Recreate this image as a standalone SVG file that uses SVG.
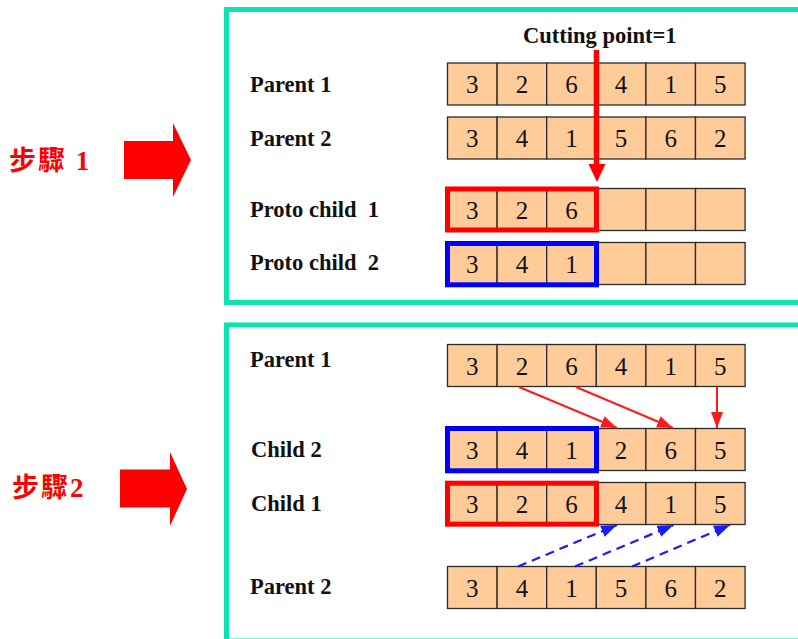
<svg xmlns="http://www.w3.org/2000/svg" width="798" height="639" viewBox="0 0 798 639">
  <style>
    .frame { fill: none; stroke: #0BE3B0; stroke-width: 5; }
    .cell { fill: #FFCC99; stroke: #2b2b2b; stroke-width: 1.3; }
    .num { font-family: "Liberation Serif", "Times New Roman", serif; font-size: 25px; fill: #111; text-anchor: middle; }
    .lbl { font-family: "Liberation Serif", "Times New Roman", serif; font-size: 22.5px; font-weight: bold; fill: #111; }
    .step { font-family: "Liberation Serif", "Noto Sans CJK TC", serif; font-size: 27px; font-weight: bold; fill: #FF0000; letter-spacing: 2px; }
    .hl-red { fill: none; stroke: #FF0000; stroke-width: 5; }
    .hl-blue { fill: none; stroke: #0000FF; stroke-width: 5; }
    .copy { fill: none; stroke: #FF1A1A; stroke-width: 2; marker-end: url(#headRed); }
    .fill { fill: none; stroke: #1A1AFF; stroke-width: 2.2; stroke-dasharray: 9 6; marker-end: url(#headBlue); }
  </style>
  <defs>
    <marker id="headRed" markerUnits="userSpaceOnUse" markerWidth="18" markerHeight="14" refX="16" refY="6" orient="auto">
      <path d="M0,0 L16,6 L0,12 Z" fill="#FF1A1A"/>
    </marker>
    <marker id="headBlue" markerUnits="userSpaceOnUse" markerWidth="18" markerHeight="14" refX="16" refY="6" orient="auto">
      <path d="M0,0 L16,6 L0,12 Z" fill="#1A1AFF"/>
    </marker>
  </defs>

  <rect width="798" height="639" fill="#FFFFFF"/>

  <!-- step 1 -->
  <g id="step1-label">
    <text class="step" x="9" y="170" xml:space="preserve">步驟 1</text>
    <polygon points="124,141 173,141 173,123 191,160 173,197 173,179 124,179" fill="#FF0000"/>
  </g>

  <g id="step1-frame">
    <rect class="frame" x="226.5" y="9.5" width="600" height="293"/>
    <text class="lbl" x="523" y="43">Cutting point=1</text>
  </g>

  <g id="s1-parent1">
    <text class="lbl" x="250" y="92">Parent 1</text>
    <rect class="cell" x="447.5" y="63" width="49.6" height="42"/>
    <rect class="cell" x="497.1" y="63" width="49.6" height="42"/>
    <rect class="cell" x="546.7" y="63" width="49.6" height="42"/>
    <rect class="cell" x="596.3" y="63" width="49.6" height="42"/>
    <rect class="cell" x="645.9" y="63" width="49.6" height="42"/>
    <rect class="cell" x="695.5" y="63" width="49.6" height="42"/>
    <text class="num" x="472.3" y="93">3</text>
    <text class="num" x="521.9" y="93">2</text>
    <text class="num" x="571.5" y="93">6</text>
    <text class="num" x="621.1" y="93">4</text>
    <text class="num" x="670.7" y="93">1</text>
    <text class="num" x="720.3" y="93">5</text>
  </g>

  <g id="s1-parent2">
    <text class="lbl" x="250" y="146">Parent 2</text>
    <rect class="cell" x="447.5" y="117" width="49.6" height="42"/>
    <rect class="cell" x="497.1" y="117" width="49.6" height="42"/>
    <rect class="cell" x="546.7" y="117" width="49.6" height="42"/>
    <rect class="cell" x="596.3" y="117" width="49.6" height="42"/>
    <rect class="cell" x="645.9" y="117" width="49.6" height="42"/>
    <rect class="cell" x="695.5" y="117" width="49.6" height="42"/>
    <text class="num" x="472.3" y="147">3</text>
    <text class="num" x="521.9" y="147">4</text>
    <text class="num" x="571.5" y="147">1</text>
    <text class="num" x="621.1" y="147">5</text>
    <text class="num" x="670.7" y="147">6</text>
    <text class="num" x="720.3" y="147">2</text>
  </g>

  <g id="s1-proto1">
    <text class="lbl" x="250" y="217" xml:space="preserve">Proto child  1</text>
    <rect class="cell" x="447.5" y="188.5" width="49.6" height="42"/>
    <rect class="cell" x="497.1" y="188.5" width="49.6" height="42"/>
    <rect class="cell" x="546.7" y="188.5" width="49.6" height="42"/>
    <rect class="cell" x="596.3" y="188.5" width="49.6" height="42"/>
    <rect class="cell" x="645.9" y="188.5" width="49.6" height="42"/>
    <rect class="cell" x="695.5" y="188.5" width="49.6" height="42"/>
    <text class="num" x="472.3" y="218.5">3</text>
    <text class="num" x="521.9" y="218.5">2</text>
    <text class="num" x="571.5" y="218.5">6</text>
    <rect class="hl-red" x="447.5" y="189" width="149" height="41"/>
  </g>

  <g id="s1-proto2">
    <text class="lbl" x="250" y="270" xml:space="preserve">Proto child  2</text>
    <rect class="cell" x="447.5" y="242.5" width="49.6" height="42"/>
    <rect class="cell" x="497.1" y="242.5" width="49.6" height="42"/>
    <rect class="cell" x="546.7" y="242.5" width="49.6" height="42"/>
    <rect class="cell" x="596.3" y="242.5" width="49.6" height="42"/>
    <rect class="cell" x="645.9" y="242.5" width="49.6" height="42"/>
    <rect class="cell" x="695.5" y="242.5" width="49.6" height="42"/>
    <text class="num" x="472.3" y="272.5">3</text>
    <text class="num" x="521.9" y="272.5">4</text>
    <text class="num" x="571.5" y="272.5">1</text>
    <rect class="hl-blue" x="447.5" y="243.5" width="149" height="41.3"/>
  </g>

  <!-- step 2 -->
  <g id="step2-label">
    <text class="step" x="12" y="497">步驟2</text>
    <polygon points="120,469.5 170,469.5 170,452 187,489 170,526 170,507.5 120,507.5" fill="#FF0000"/>
  </g>

  <g id="step2-frame">
    <rect class="frame" x="226.5" y="325" width="600" height="316"/>
  </g>

  <g id="s2-parent1">
    <text class="lbl" x="250" y="367">Parent 1</text>
    <rect class="cell" x="447.5" y="344.5" width="49.6" height="42"/>
    <rect class="cell" x="497.1" y="344.5" width="49.6" height="42"/>
    <rect class="cell" x="546.7" y="344.5" width="49.6" height="42"/>
    <rect class="cell" x="596.3" y="344.5" width="49.6" height="42"/>
    <rect class="cell" x="645.9" y="344.5" width="49.6" height="42"/>
    <rect class="cell" x="695.5" y="344.5" width="49.6" height="42"/>
    <text class="num" x="472.3" y="374.5">3</text>
    <text class="num" x="521.9" y="374.5">2</text>
    <text class="num" x="571.5" y="374.5">6</text>
    <text class="num" x="621.1" y="374.5">4</text>
    <text class="num" x="670.7" y="374.5">1</text>
    <text class="num" x="720.3" y="374.5">5</text>
  </g>

  <g id="s2-child2">
    <text class="lbl" x="251" y="457">Child 2</text>
    <rect class="cell" x="447.5" y="428.5" width="49.6" height="42"/>
    <rect class="cell" x="497.1" y="428.5" width="49.6" height="42"/>
    <rect class="cell" x="546.7" y="428.5" width="49.6" height="42"/>
    <rect class="cell" x="596.3" y="428.5" width="49.6" height="42"/>
    <rect class="cell" x="645.9" y="428.5" width="49.6" height="42"/>
    <rect class="cell" x="695.5" y="428.5" width="49.6" height="42"/>
    <text class="num" x="472.3" y="458.5">3</text>
    <text class="num" x="521.9" y="458.5">4</text>
    <text class="num" x="571.5" y="458.5">1</text>
    <text class="num" x="621.1" y="458.5">2</text>
    <text class="num" x="670.7" y="458.5">6</text>
    <text class="num" x="720.3" y="458.5">5</text>
    <rect class="hl-blue" x="447.5" y="428.5" width="149" height="42.3"/>
  </g>

  <g id="s2-child1">
    <text class="lbl" x="251" y="511">Child 1</text>
    <rect class="cell" x="447.5" y="482.5" width="49.6" height="42"/>
    <rect class="cell" x="497.1" y="482.5" width="49.6" height="42"/>
    <rect class="cell" x="546.7" y="482.5" width="49.6" height="42"/>
    <rect class="cell" x="596.3" y="482.5" width="49.6" height="42"/>
    <rect class="cell" x="645.9" y="482.5" width="49.6" height="42"/>
    <rect class="cell" x="695.5" y="482.5" width="49.6" height="42"/>
    <text class="num" x="472.3" y="512.5">3</text>
    <text class="num" x="521.9" y="512.5">2</text>
    <text class="num" x="571.5" y="512.5">6</text>
    <text class="num" x="621.1" y="512.5">4</text>
    <text class="num" x="670.7" y="512.5">1</text>
    <text class="num" x="720.3" y="512.5">5</text>
    <rect class="hl-red" x="447.5" y="483.2" width="149" height="41"/>
  </g>

  <g id="s2-parent2">
    <text class="lbl" x="250" y="594">Parent 2</text>
    <rect class="cell" x="447.5" y="566.5" width="49.6" height="42"/>
    <rect class="cell" x="497.1" y="566.5" width="49.6" height="42"/>
    <rect class="cell" x="546.7" y="566.5" width="49.6" height="42"/>
    <rect class="cell" x="596.3" y="566.5" width="49.6" height="42"/>
    <rect class="cell" x="645.9" y="566.5" width="49.6" height="42"/>
    <rect class="cell" x="695.5" y="566.5" width="49.6" height="42"/>
    <text class="num" x="472.3" y="596.5">3</text>
    <text class="num" x="521.9" y="596.5">4</text>
    <text class="num" x="571.5" y="596.5">1</text>
    <text class="num" x="621.1" y="596.5">5</text>
    <text class="num" x="670.7" y="596.5">6</text>
    <text class="num" x="720.3" y="596.5">2</text>
  </g>

  <g id="connectors">
    <!-- cutting point marker -->
    <line x1="596.5" y1="50" x2="596.5" y2="166" stroke="#FF0000" stroke-width="5.5"/>
    <polygon points="588.5,164 605.5,164 597,182" fill="#FF0000"/>
    <!-- genes copied from parent 1 into child 2 -->
    <line class="copy" x1="519" y1="387" x2="617" y2="428"/>
    <line class="copy" x1="576" y1="387" x2="673" y2="428"/>
    <line class="copy" x1="717" y1="387" x2="717" y2="428"/>
    <!-- genes copied from parent 2 into child 1 -->
    <line class="fill" x1="518" y1="566.5" x2="617" y2="525"/>
    <line class="fill" x1="575" y1="566.5" x2="673.5" y2="525"/>
    <line class="fill" x1="632" y1="566.5" x2="730" y2="525"/>
  </g>
</svg>
